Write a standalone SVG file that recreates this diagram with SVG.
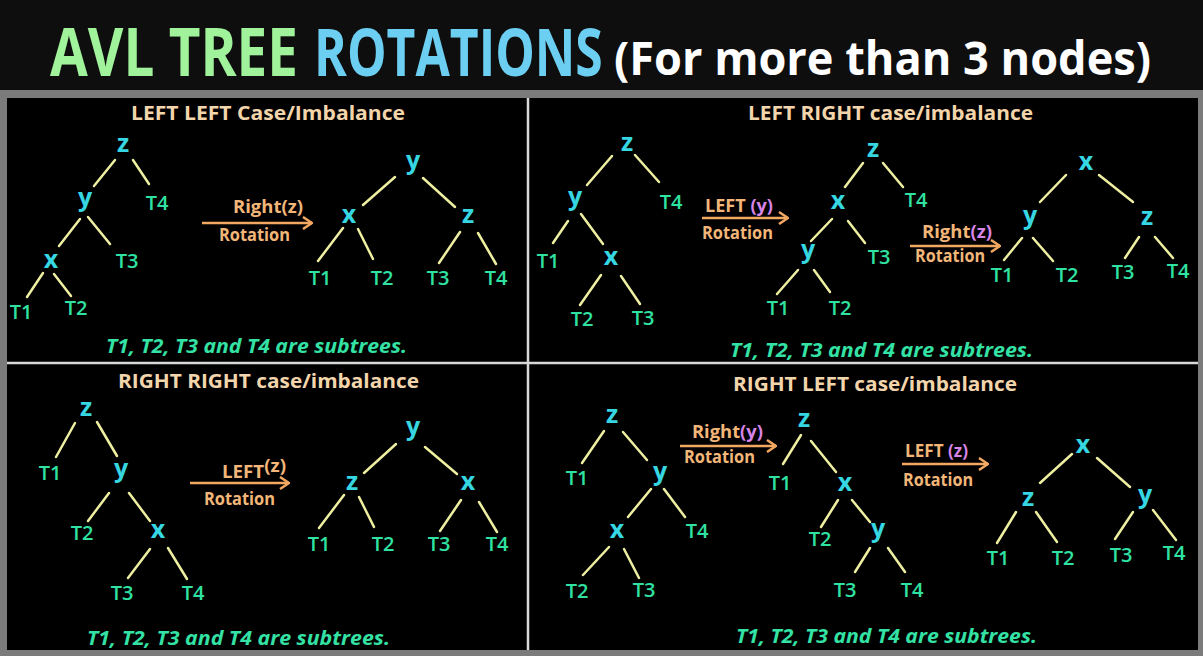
<svg xmlns="http://www.w3.org/2000/svg" width="1203" height="656" viewBox="0 0 1203 656">
<defs>
<style>
.hd{font-family:"Open Sans","Liberation Sans",sans-serif;font-weight:700;font-size:20px;fill:#f3d5ac}
.ft{font-family:"Open Sans","Liberation Sans",sans-serif;font-weight:700;font-style:italic;font-size:20px;fill:#33e2a4}
.n{font-family:"Open Sans","Liberation Sans",sans-serif;font-weight:700;font-size:25px;fill:#36d6e2;text-anchor:middle}
.t{font-family:"Open Sans","Liberation Sans",sans-serif;font-weight:600;font-size:20px;fill:#30e2a2;text-anchor:middle}
.ar{font-family:"Open Sans","Liberation Sans",sans-serif;font-weight:700;font-size:18px;fill:#f2b679}
.pu{fill:#d685e6}
.ln line{stroke:#efefa2;stroke-width:2.5;stroke-linecap:round}
.arr{stroke:#f3a862;stroke-width:2.5;fill:none}
.ttl{font-family:"Open Sans","Liberation Sans",sans-serif;font-weight:700;font-size:66px}
.ttl2{font-family:"Open Sans","Liberation Sans",sans-serif;font-weight:700;font-size:47px;fill:#ffffff}
</style>
<marker id="ah" viewBox="0 0 12 14" refX="11" refY="7" markerWidth="12" markerHeight="14" markerUnits="userSpaceOnUse" orient="auto">
<path d="M2,1 L11,7 L2,13" fill="none" stroke="#f3a862" stroke-width="2.5"/>
</marker>
</defs>
<rect x="0" y="0" width="1203" height="656" fill="#0e0e0e"/>
<rect x="0" y="90" width="1203" height="566" fill="#7b7b7b"/>
<rect x="7" y="98" width="1191" height="552" fill="#000"/>
<g id="dividers" stroke="#d8d8d8" stroke-width="2.5">
<line x1="528" y1="98" x2="528" y2="650"/>
<line x1="7" y1="363" x2="1198" y2="363"/>
</g>
<g id="title">
<text class="ttl" transform="translate(50,76) scale(0.8,1)" fill="#a0f29b" textLength="310" lengthAdjust="spacingAndGlyphs">AVL TREE</text>
<text class="ttl" transform="translate(314,76) scale(0.75,1)" fill="#6ccff2" textLength="385" lengthAdjust="spacingAndGlyphs">ROTATIONS</text>
<text class="ttl2" x="614" y="75" textLength="537" lengthAdjust="spacingAndGlyphs">(For more than 3 nodes)</text>
</g>
<g id="headings">
<text class="hd" x="131" y="120" textLength="274" lengthAdjust="spacingAndGlyphs">LEFT LEFT Case/Imbalance</text>
<text class="hd" x="748" y="120" textLength="285" lengthAdjust="spacingAndGlyphs">LEFT RIGHT case/imbalance</text>
<text class="hd" x="118" y="388" textLength="301" lengthAdjust="spacingAndGlyphs">RIGHT RIGHT case/imbalance</text>
<text class="hd" x="733" y="391" textLength="284" lengthAdjust="spacingAndGlyphs">RIGHT LEFT case/imbalance</text>
</g>
<g id="footers">
<text class="ft" x="106" y="353" textLength="301" lengthAdjust="spacingAndGlyphs">T1, T2, T3 and T4 are subtrees.</text>
<text class="ft" x="730" y="357" textLength="303" lengthAdjust="spacingAndGlyphs">T1, T2, T3 and T4 are subtrees.</text>
<text class="ft" x="87" y="645" textLength="303" lengthAdjust="spacingAndGlyphs">T1, T2, T3 and T4 are subtrees.</text>
<text class="ft" x="736" y="643" textLength="301" lengthAdjust="spacingAndGlyphs">T1, T2, T3 and T4 are subtrees.</text>
</g>
<g id="connectors" class="ln">
<line x1="115" y1="160" x2="94" y2="186"/><line x1="133" y1="160" x2="149" y2="184"/>
<line x1="80" y1="219" x2="59" y2="246"/><line x1="88" y1="217" x2="110" y2="244"/>
<line x1="43" y1="273" x2="27" y2="297"/><line x1="54" y1="274" x2="71" y2="296"/>
<line x1="395" y1="177" x2="363" y2="205"/><line x1="423" y1="178" x2="455" y2="207"/>
<line x1="343" y1="228" x2="318" y2="261"/><line x1="358" y1="229" x2="373" y2="259"/>
<line x1="460" y1="232" x2="439" y2="263"/><line x1="478" y1="233" x2="496" y2="264"/>
<line x1="612" y1="156" x2="587" y2="185"/><line x1="635" y1="155" x2="659" y2="182"/>
<line x1="568" y1="221" x2="553" y2="243"/><line x1="581" y1="214" x2="603" y2="244"/>
<line x1="601" y1="275" x2="580" y2="305"/><line x1="621" y1="276" x2="640" y2="304"/>
<line x1="863" y1="163" x2="845" y2="187"/><line x1="883" y1="163" x2="903" y2="187"/>
<line x1="832" y1="219" x2="811" y2="241"/><line x1="848" y1="221" x2="865" y2="243"/>
<line x1="798" y1="270" x2="777" y2="294"/><line x1="814" y1="270" x2="830" y2="292"/>
<line x1="1066" y1="175" x2="1040" y2="202"/><line x1="1099" y1="175" x2="1133" y2="202"/>
<line x1="1022" y1="238" x2="1004" y2="260"/><line x1="1033" y1="238" x2="1053" y2="261"/>
<line x1="1139" y1="237" x2="1125" y2="258"/><line x1="1155" y1="237" x2="1173" y2="258"/>
<line x1="75" y1="423" x2="56" y2="457"/><line x1="97" y1="422" x2="117" y2="456"/>
<line x1="109" y1="493" x2="88" y2="521"/><line x1="129" y1="493" x2="150" y2="521"/>
<line x1="150" y1="549" x2="128" y2="578"/><line x1="168" y1="548" x2="187" y2="579"/>
<line x1="396" y1="444" x2="364" y2="473"/><line x1="425" y1="447" x2="457" y2="474"/>
<line x1="344" y1="495" x2="319" y2="528"/><line x1="359" y1="497" x2="374" y2="527"/>
<line x1="461" y1="500" x2="440" y2="531"/><line x1="479" y1="502" x2="497" y2="532"/>
<line x1="604" y1="431" x2="582" y2="463"/><line x1="623" y1="432" x2="647" y2="460"/>
<line x1="651" y1="489" x2="628" y2="517"/><line x1="664" y1="489" x2="685" y2="517"/>
<line x1="609" y1="547" x2="583" y2="575"/><line x1="624" y1="549" x2="639" y2="578"/>
<line x1="801" y1="435" x2="783" y2="464"/><line x1="811" y1="441" x2="836" y2="472"/>
<line x1="838" y1="500" x2="821" y2="527"/><line x1="852" y1="500" x2="870" y2="522"/>
<line x1="870" y1="548" x2="855" y2="572"/><line x1="888" y1="548" x2="905" y2="572"/>
<line x1="1072" y1="454" x2="1040" y2="483"/><line x1="1097" y1="458" x2="1130" y2="487"/>
<line x1="1016" y1="512" x2="997" y2="543"/><line x1="1036" y1="512" x2="1057" y2="542"/>
<line x1="1133" y1="512" x2="1115" y2="539"/><line x1="1153" y1="510" x2="1176" y2="540"/>
</g>
<g id="arrows">
<g id="arrow-q1"><line class="arr" x1="202" y1="223" x2="312" y2="223" marker-end="url(#ah)"/>
<text class="ar" x="233" y="213" textLength="70" lengthAdjust="spacingAndGlyphs">Right(z)</text>
<text class="ar" x="219" y="241" textLength="71" lengthAdjust="spacingAndGlyphs">Rotation</text></g>
<g id="arrow-q2a"><line class="arr" x1="702" y1="218" x2="788" y2="218" marker-end="url(#ah)"/>
<text class="ar" x="705" y="212" textLength="68" lengthAdjust="spacingAndGlyphs">LEFT <tspan class="pu">(y)</tspan></text>
<text class="ar" x="702" y="239" textLength="71" lengthAdjust="spacingAndGlyphs">Rotation</text></g>
<g id="arrow-q2b"><line class="arr" x1="910" y1="246" x2="1000" y2="246" marker-end="url(#ah)"/>
<text class="ar" x="922" y="238" textLength="70" lengthAdjust="spacingAndGlyphs">Right<tspan class="pu">(z)</tspan></text>
<text class="ar" x="915" y="262" textLength="70" lengthAdjust="spacingAndGlyphs">Rotation</text></g>
<g id="arrow-q3"><line class="arr" x1="190" y1="483" x2="289" y2="483" marker-end="url(#ah)"/>
<text class="ar" x="222" y="478" textLength="64" lengthAdjust="spacingAndGlyphs">LEFT<tspan dy="-6">(z)</tspan></text>
<text class="ar" x="204" y="505" textLength="71" lengthAdjust="spacingAndGlyphs">Rotation</text></g>
<g id="arrow-q4a"><line class="arr" x1="680" y1="446" x2="776" y2="446" marker-end="url(#ah)"/>
<text class="ar" x="692" y="438" textLength="71" lengthAdjust="spacingAndGlyphs">Right<tspan class="pu">(y)</tspan></text>
<text class="ar" x="684" y="463" textLength="71" lengthAdjust="spacingAndGlyphs">Rotation</text></g>
<g id="arrow-q4b"><line class="arr" x1="902" y1="464" x2="988" y2="464" marker-end="url(#ah)"/>
<text class="ar" x="905" y="457" textLength="63" lengthAdjust="spacingAndGlyphs">LEFT <tspan class="pu">(z)</tspan></text>
<text class="ar" x="903" y="486" textLength="70" lengthAdjust="spacingAndGlyphs">Rotation</text></g>
</g>
<g id="q1-tree-before">
<g id="q1a-z"><text class="n" x="123" y="152">z</text></g>
<g id="q1a-y"><text class="n" x="85" y="206">y</text></g>
<g id="q1a-T4"><text class="t" x="157" y="210">T4</text></g>
<g id="q1a-x"><text class="n" x="51" y="268">x</text></g>
<g id="q1a-T3"><text class="t" x="127" y="268">T3</text></g>
<g id="q1a-T1"><text class="t" x="21" y="319">T1</text></g>
<g id="q1a-T2"><text class="t" x="76" y="315">T2</text></g>
</g>
<g id="q1-tree-after">
<g id="q1b-y"><text class="n" x="413" y="169">y</text></g>
<g id="q1b-x"><text class="n" x="349" y="223">x</text></g>
<g id="q1b-z"><text class="n" x="468" y="223">z</text></g>
<g id="q1b-T1"><text class="t" x="320" y="285">T1</text></g>
<g id="q1b-T2"><text class="t" x="382" y="285">T2</text></g>
<g id="q1b-T3"><text class="t" x="438" y="285">T3</text></g>
<g id="q1b-T4"><text class="t" x="496" y="285">T4</text></g>
</g>
<g id="q2-tree-before">
<g id="q2a-z"><text class="n" x="627" y="151">z</text></g>
<g id="q2a-y"><text class="n" x="575" y="205">y</text></g>
<g id="q2a-T4"><text class="t" x="671" y="209">T4</text></g>
<g id="q2a-T1"><text class="t" x="548" y="268">T1</text></g>
<g id="q2a-x"><text class="n" x="611" y="265">x</text></g>
<g id="q2a-T2"><text class="t" x="582" y="326">T2</text></g>
<g id="q2a-T3"><text class="t" x="643" y="325">T3</text></g>
</g>
<g id="q2-tree-mid">
<g id="q2b-z"><text class="n" x="873" y="157">z</text></g>
<g id="q2b-T4"><text class="t" x="916" y="207">T4</text></g>
<g id="q2b-x"><text class="n" x="838" y="209">x</text></g>
<g id="q2b-T3"><text class="t" x="879" y="264">T3</text></g>
<g id="q2b-y"><text class="n" x="808" y="258">y</text></g>
<g id="q2b-T1"><text class="t" x="778" y="315">T1</text></g>
<g id="q2b-T2"><text class="t" x="840" y="315">T2</text></g>
</g>
<g id="q2-tree-after">
<g id="q2c-x"><text class="n" x="1086" y="170">x</text></g>
<g id="q2c-y"><text class="n" x="1030" y="224">y</text></g>
<g id="q2c-z"><text class="n" x="1147" y="225">z</text></g>
<g id="q2c-T1"><text class="t" x="1002" y="282">T1</text></g>
<g id="q2c-T2"><text class="t" x="1067" y="282">T2</text></g>
<g id="q2c-T3"><text class="t" x="1123" y="279">T3</text></g>
<g id="q2c-T4"><text class="t" x="1178" y="278">T4</text></g>
</g>
<g id="q3-tree-before">
<g id="q3a-z"><text class="n" x="86" y="416">z</text></g>
<g id="q3a-T1"><text class="t" x="50" y="480">T1</text></g>
<g id="q3a-y"><text class="n" x="121" y="477">y</text></g>
<g id="q3a-T2"><text class="t" x="82" y="540">T2</text></g>
<g id="q3a-x"><text class="n" x="158" y="538">x</text></g>
<g id="q3a-T3"><text class="t" x="122" y="600">T3</text></g>
<g id="q3a-T4"><text class="t" x="193" y="600">T4</text></g>
</g>
<g id="q3-tree-after">
<g id="q3b-y"><text class="n" x="413" y="435">y</text></g>
<g id="q3b-z"><text class="n" x="352" y="490">z</text></g>
<g id="q3b-x"><text class="n" x="468" y="490">x</text></g>
<g id="q3b-T1"><text class="t" x="319" y="551">T1</text></g>
<g id="q3b-T2"><text class="t" x="383" y="551">T2</text></g>
<g id="q3b-T3"><text class="t" x="439" y="551">T3</text></g>
<g id="q3b-T4"><text class="t" x="497" y="551">T4</text></g>
</g>
<g id="q4-tree-before">
<g id="q4a-z"><text class="n" x="612" y="423">z</text></g>
<g id="q4a-T1"><text class="t" x="577" y="485">T1</text></g>
<g id="q4a-y"><text class="n" x="660" y="480">y</text></g>
<g id="q4a-x"><text class="n" x="617" y="538">x</text></g>
<g id="q4a-T4"><text class="t" x="697" y="538">T4</text></g>
<g id="q4a-T2"><text class="t" x="577" y="598">T2</text></g>
<g id="q4a-T3"><text class="t" x="644" y="597">T3</text></g>
</g>
<g id="q4-tree-mid">
<g id="q4b-z"><text class="n" x="804" y="427">z</text></g>
<g id="q4b-T1"><text class="t" x="780" y="490">T1</text></g>
<g id="q4b-x"><text class="n" x="845" y="491">x</text></g>
<g id="q4b-T2"><text class="t" x="820" y="546">T2</text></g>
<g id="q4b-y"><text class="n" x="878" y="537">y</text></g>
<g id="q4b-T3"><text class="t" x="845" y="597">T3</text></g>
<g id="q4b-T4"><text class="t" x="912" y="597">T4</text></g>
</g>
<g id="q4-tree-after">
<g id="q4c-x"><text class="n" x="1083" y="453">x</text></g>
<g id="q4c-z"><text class="n" x="1028" y="506">z</text></g>
<g id="q4c-y"><text class="n" x="1145" y="503">y</text></g>
<g id="q4c-T1"><text class="t" x="998" y="565">T1</text></g>
<g id="q4c-T2"><text class="t" x="1063" y="565">T2</text></g>
<g id="q4c-T3"><text class="t" x="1121" y="562">T3</text></g>
<g id="q4c-T4"><text class="t" x="1174" y="560">T4</text></g>
</g>
</svg>
